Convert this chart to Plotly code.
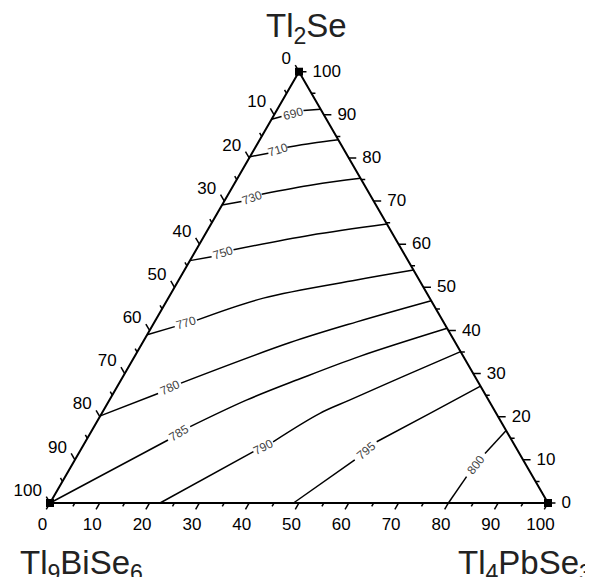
import math
import plotly.graph_objects as go

# ---------------- data (mol %, order: Tl2Se, Tl9BiSe6, Tl4PbSe3) ----------------
major_ticks = [0, 10, 20, 30, 40, 50, 60, 70, 80, 90, 100]
minor_ticks = [5, 15, 25, 35, 45, 55, 65, 75, 85, 95]
vertices = [(100, 0, 0), (0, 100, 0), (0, 0, 100)]
vertex_names = ["Tl<sub>2</sub>Se", "Tl<sub>9</sub>BiSe<sub>6</sub>", "Tl<sub>4</sub>PbSe<sub>3</sub>"]

iso_temps = [690, 710, 730, 750, 770, 780, 785, 790, 795, 800]
# each isotherm: [points before its label, points after its label]
iso690 = [[(89.0, 11.0, 0.0), (89.6, 8.7, 1.7)],
          [(91.0, 3.6, 5.4), (91.3, 0.0, 8.7)]]
iso710 = [[(80.3, 19.7, 0.0), (81.1, 15.6, 3.3)],
          [(82.5, 11.1, 6.4), (83.4, 5.7, 10.9), (84.2, 0.0, 15.8)]]
iso730 = [[(69.1, 30.9, 0.0), (69.9, 26.6, 3.5)],
          [(71.6, 21.7, 6.7), (73.8, 10.2, 16.0), (75.3, 0.0, 24.7)]]
iso750 = [[(56.2, 43.8, 0.0), (57.1, 39.0, 3.9)],
          [(58.7, 33.8, 7.5), (62.1, 16.7, 21.2), (64.7, 0.0, 35.3)]]
iso770 = [[(39.0, 61.0, 0.0), (40.9, 54.5, 4.6)],
          [(42.4, 49.3, 8.3), (47.5, 33.4, 19.1), (51.7, 12.6, 35.7), (54.0, 0.0, 46.0)]]
iso780 = [[(20.2, 79.8, 0.0), (25.4, 65.6, 9.0)],
          [(27.8, 59.8, 12.4), (37.2, 33.2, 29.6), (42.0, 17.4, 40.6), (46.9, 0.0, 53.1)]]
iso785 = [[(0.0, 100.0, 0.0), (14.6, 69.0, 16.4)],
          [(17.7, 63.0, 19.3), (23.9, 48.5, 27.6), (28.8, 35.4, 35.8), (34.0, 20.8, 45.2), (40.5, 0.0, 59.5)]]
iso790 = [[(0.0, 77.9, 22.1), (11.9, 53.2, 34.9)],
          [(14.2, 48.1, 37.7), (20.8, 35.4, 43.8), (23.9, 27.8, 48.3), (29.7, 13.5, 56.8), (35.1, 0.0, 64.9)]]
iso795 = [[(0.0, 51.1, 48.9), (10.0, 33.8, 56.2)],
          [(14.2, 27.3, 58.5), (20.8, 13.3, 65.9), (27.1, 0.0, 72.9)]]
iso800 = [[(0.0, 20.0, 80.0), (6.1, 13.3, 80.6)],
          [(11.5, 6.9, 81.6), (16.8, 0.0, 83.2)]]
isotherms = [iso690, iso710, iso730, iso750, iso770, iso780, iso785, iso790, iso795, iso800]

# ---------------- layout geometry (figure pixels) ----------------
W, H = 593, 577
PAGE_OFF = 8                      # default page margin around the plot div
TRI_X0, TRI_Y0, SIDE = 50.0 - PAGE_OFF, 503.0 - PAGE_OFF, 498.0
SQ3 = math.sqrt(3)
TRI_H = SIDE * SQ3 / 2
M_EXT = 5.5                       # extra room (in %) beyond each edge for ticks / labels
TOTAL = 100 + 3 * M_EXT           # ternary sum of the enlarged frame
FONT = "Liberation Sans, Arial, sans-serif"
MAJOR_T, MINOR_T = 1.5, 0.8


def to_px(p):
    a, b, c = p
    return TRI_X0 + SIDE * (c + a / 2) / 100, TRI_Y0 - TRI_H * a / 100


def shift(p, dx, dy):
    a, b, c = p
    da = -dy / (TRI_H / 100)
    dc = dx / (SIDE / 100) - da / 2
    return (a + da, b - da - dc, c + dc)


def frame(p):
    # composition (%) -> coordinates of the enlarged ternary frame
    return tuple(v + M_EXT for v in p)


def abc(points):
    A, B, C = [], [], []
    for p in points:
        if p is None:
            A.append(None); B.append(None); C.append(None)
        else:
            a, b, c = frame(p)
            A.append(a); B.append(b); C.append(c)
    return A, B, C


def ternary_trace(pts_list, **kw):
    flat = []
    for pts in pts_list:
        flat += list(pts) + [None]
    A, B, C = abc(flat)
    return go.Scatterternary(a=A, b=B, c=C, cliponaxis=False, hoverinfo="skip", showlegend=False, **kw)


def tick_segs(vals, t):
    segs = []
    for v in vals:
        segs.append([(100 - v, v, 0), (100 - v + t, v, -t)])      # left edge (Tl9BiSe6)
        segs.append([(v, 0, 100 - v), (v, -t, 100 - v + t)])      # right edge (Tl2Se)
        segs.append([(0, 100 - v, v), (-t, 100 - v + t, v)])      # bottom edge (Tl4PbSe3)
    return segs


fig = go.Figure()

# triangle frame
fig.add_trace(ternary_trace([vertices + [vertices[0]]], mode="lines", line=dict(color="black", width=2)))

# ticks
fig.add_trace(ternary_trace(tick_segs(major_ticks, MAJOR_T) + tick_segs(minor_ticks, MINOR_T),
                            mode="lines", line=dict(color="black", width=1.5)))

# isotherms
for segs in isotherms:
    fig.add_trace(ternary_trace(segs, mode="lines", line=dict(color="black", width=1.5, shape="spline")))


def label_trace(points, texts, pos):
    A, B, C = abc(points)
    return go.Scatterternary(a=A, b=B, c=C, mode="text", text=texts, textposition=pos, cliponaxis=False,
                             textfont=dict(family=FONT, size=17, color="black"),
                             hoverinfo="skip", showlegend=False)


left_pts = [shift((100 - v, v, 0), -8, -11.6) for v in major_ticks]
right_pts = [shift((v, 0, 100 - v), 13.5, 0.8) for v in major_ticks]
bottom_pts = [shift((0, 100 - v, v), -7.5, 14.4) for v in major_ticks]
labels = [str(v) for v in major_ticks]
fig.add_trace(label_trace(left_pts, labels, "middle left"))
fig.add_trace(label_trace(right_pts, labels, "middle right"))
fig.add_trace(label_trace(bottom_pts, labels, "bottom center"))

# vertex markers
VA, VB, VC = abc(vertices)
fig.add_trace(go.Scatterternary(a=VA, b=VB, c=VC, mode="markers",
                                marker=dict(symbol="square", size=8, color="black"),
                                cliponaxis=False, hoverinfo="skip", showlegend=False))

annotations = []
for T, segs in zip(iso_temps, isotherms):
    p1 = to_px(segs[0][-1]); p2 = to_px(segs[1][0])
    cx, cy = (p1[0] + p2[0]) / 2, (p1[1] + p2[1]) / 2
    ang = math.degrees(math.atan2(p2[1] - p1[1], p2[0] - p1[0]))
    annotations.append(dict(x=cx / W, y=1 - cy / H, xref="paper", yref="paper", text=str(T),
                            textangle=ang, showarrow=False, xanchor="center", yanchor="middle",
                            font=dict(family=FONT, size=12, color="#444")))

# component titles (box top-left corners, figure pixels)
title_pos = [(255.5, -3.5), (9.5, 534), (448, 534)]
for name, (tx, ty) in zip(vertex_names, title_pos):
    annotations.append(dict(x=tx / W, y=1 - ty / H, xref="paper", yref="paper", text=name,
                            showarrow=False, xanchor="left", yanchor="top",
                            font=dict(family=FONT, size=33, color="#222")))

# ternary domain: enlarged frame placed so that the real 0..100 triangle
# lands at TRI_X0 / TRI_Y0 with side SIDE
S_big = SIDE * TOTAL / 100
cx_big = TRI_X0 + SIDE / 2
top_big = TRI_Y0 - TRI_H * (100 + 2 * M_EXT) / 100
bot_big = TRI_Y0 + TRI_H * M_EXT / 100
yc = 1 - (top_big + bot_big) / 2 / H
axis_style = dict(showticklabels=False, ticks="", showgrid=False, showline=False, title=dict(text=""))
fig.update_layout(
    width=W, height=H, margin=dict(l=0, r=0, t=0, b=0),
    paper_bgcolor="white", plot_bgcolor="white", showlegend=False,
    ternary=dict(sum=TOTAL, bgcolor="rgba(0,0,0,0)",
                 domain=dict(x=[(cx_big - S_big / 2) / W, (cx_big + S_big / 2) / W],
                             y=[yc - 0.44, yc + 0.44]),
                 aaxis=axis_style, baxis=axis_style, caxis=axis_style),
    annotations=annotations,
)

fig.write_html("out.html")
